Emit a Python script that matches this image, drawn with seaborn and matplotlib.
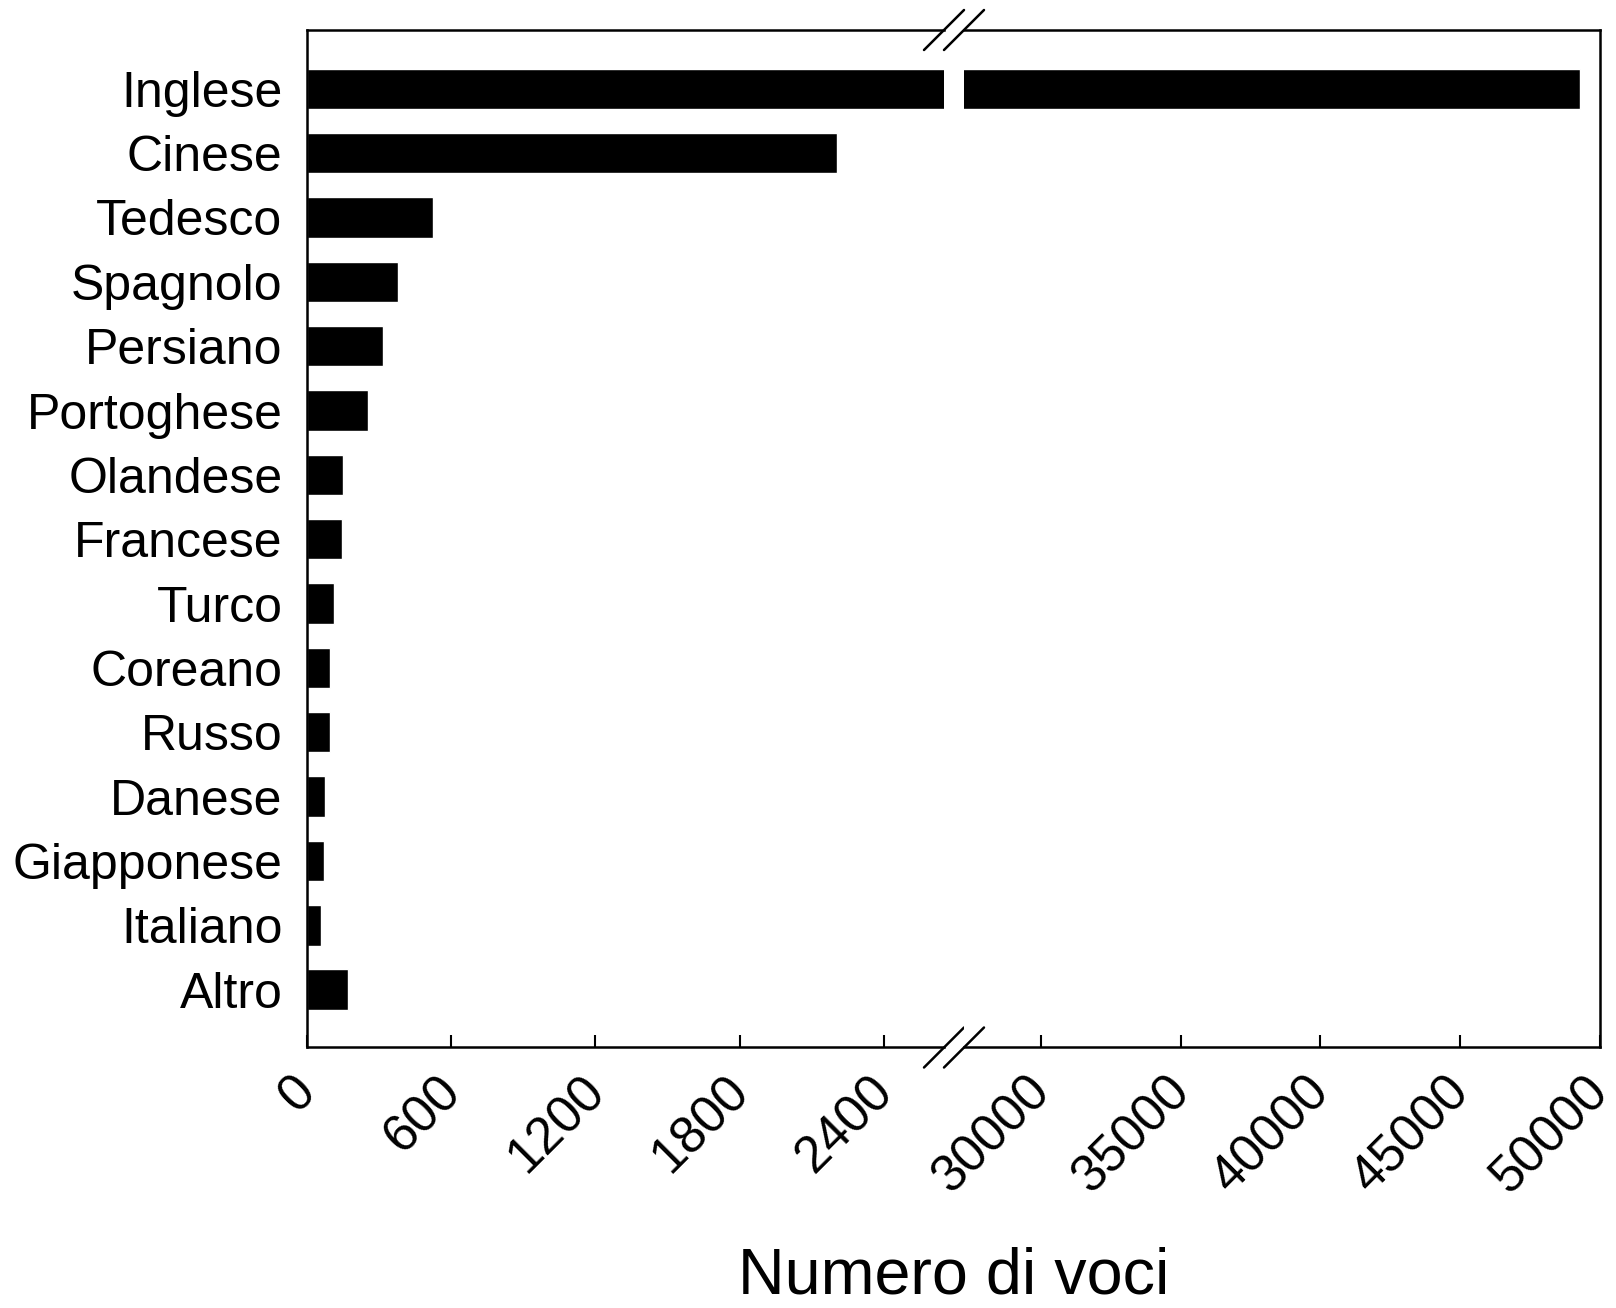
import matplotlib
matplotlib.use('Agg')
import matplotlib.pyplot as plt
import matplotlib.transforms as mtransforms
import pandas as pd
import seaborn as sns

# dati
lingue = ['Inglese', 'Cinese', 'Tedesco', 'Spagnolo', 'Persiano', 'Portoghese',
          'Olandese', 'Francese', 'Turco', 'Coreano', 'Russo', 'Danese',
          'Giapponese', 'Italiano', 'Altro']
voci = [49280, 2206, 524, 380, 316, 254, 152, 145, 115, 98, 95, 75, 72, 60, 170]

tick_sx = [0, 600, 1200, 1800, 2400]
tick_dx = [30000, 35000, 40000, 45000, 50000]
lim_sx = (0, 2650)
lim_dx = (27250, 50000)

df = pd.DataFrame({'lingua': lingue, 'voci': voci})

sns.set_style('white', rc={'axes.edgecolor': 'black', 'text.color': 'black',
                           'xtick.color': 'black', 'ytick.color': 'black',
                           'axes.labelcolor': 'black'})
plt.rcParams['font.family'] = ['Liberation Sans', 'DejaVu Sans']

fig = plt.figure(figsize=(16.16, 13.08), dpi=100)
ax1 = fig.add_axes([0.18985, 0.19916, 0.39431, 0.7779])
ax2 = fig.add_axes([0.59653, 0.19916, 0.39338, 0.7779])

for ax in (ax1, ax2):
    sns.barplot(data=df, x='voci', y='lingua', orient='h', color='black',
                saturation=1, width=0.63, ax=ax)
    ax.set_ylim(14.9, -0.914)
    ax.set_xlabel('')
    ax.set_ylabel('')
    for s in ax.spines.values():
        s.set_linewidth(1.8)
    ax.tick_params(axis='x', direction='in', length=8.5, width=1.5,
                   labelsize=37, pad=14, bottom=True)
    ax.tick_params(axis='y', length=0, labelsize=36, pad=17.5)

ax1.set_xlim(lim_sx)
ax1.set_xticks(tick_sx)
ax2.set_xlim(lim_dx)
ax2.set_xticks(tick_dx)

ax1.spines['right'].set_visible(False)
ax2.spines['left'].set_visible(False)
ax2.tick_params(axis='y', labelleft=False)

offset = mtransforms.ScaledTranslation(19 / 100, 0, fig.dpi_scale_trans)
for ax in (ax1, ax2):
    for lab in ax.get_xticklabels():
        lab.set_rotation(45)
        lab.set_ha('right')
        lab.set_transform(lab.get_transform() + offset)

# segni di interruzione dell'asse
kw = dict(color='black', lw=1.8, clip_on=False)
dx1 = 20 / 637.2
dx2 = 20 / 635.7
dy = 20 / 1017.5
for y in (0, 1):
    ax1.plot([1 - dx1, 1 + dx1], [y - dy, y + dy], transform=ax1.transAxes, **kw)
    ax2.plot([-dx2, dx2], [y - dy, y + dy], transform=ax2.transAxes, **kw)

fig.text(0.5903, 0.001, 'Numero di voci', ha='center', va='bottom', fontsize=46.5)

fig.savefig('out.png', dpi=100)
